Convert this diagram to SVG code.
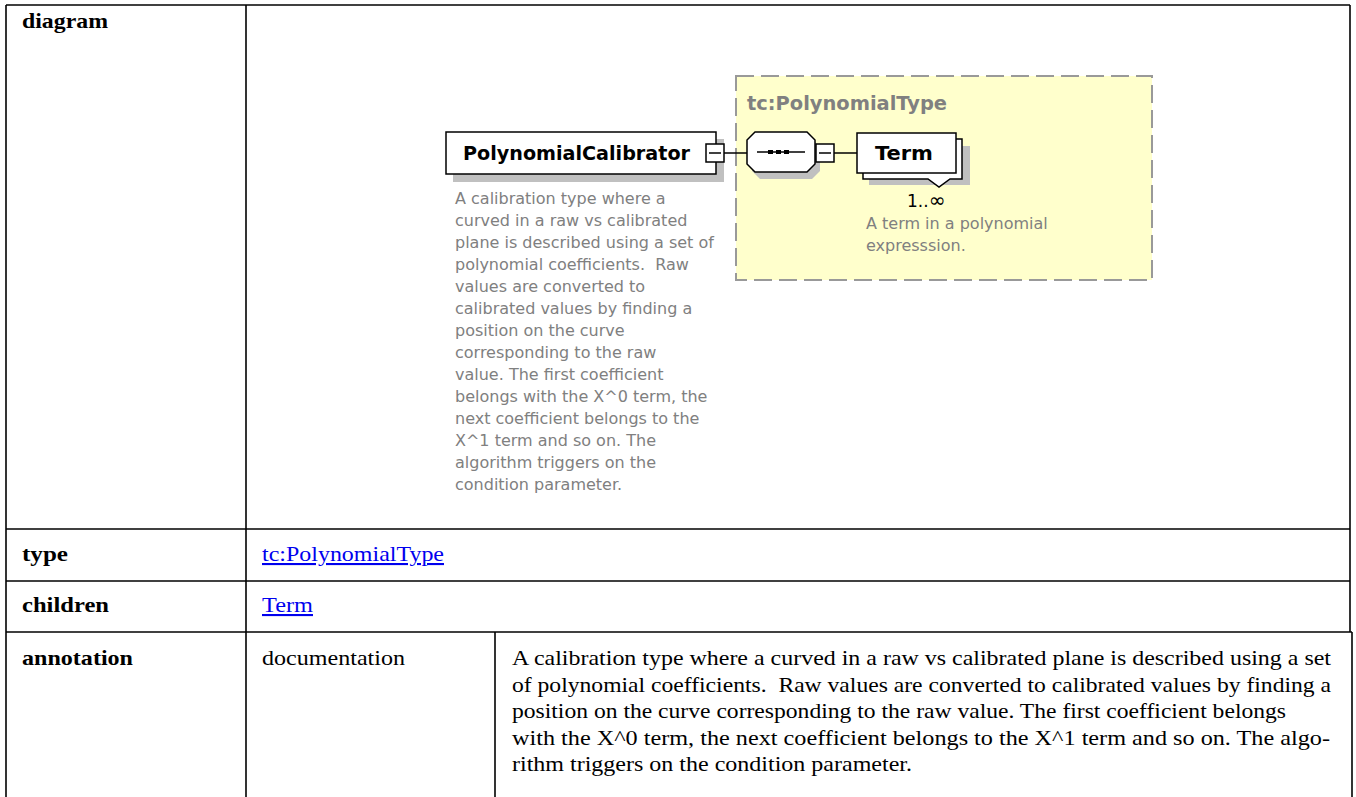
<svg xmlns="http://www.w3.org/2000/svg" width="1356" height="797" viewBox="0 0 1356 797">
  <style>
    .grid { stroke: #000; stroke-width: 1.6; fill: none; }
    .hdr { font-family: "Liberation Serif", "Times New Roman", serif; font-weight: bold; font-size: 21px; fill: #000; }
    .cell { font-family: "Liberation Serif", "Times New Roman", serif; font-size: 21px; fill: #000; }
    .link { font-family: "Liberation Serif", "Times New Roman", serif; font-size: 21px; fill: #0000EE; text-decoration: underline; }
    .name { font-family: "DejaVu Sans", Verdana, sans-serif; font-weight: bold; font-size: 19px; fill: #000; }
    .typename { font-family: "DejaVu Sans", Verdana, sans-serif; font-weight: bold; font-size: 19px; fill: #808080; }
    .doc { font-family: "DejaVu Sans", Verdana, sans-serif; font-size: 16px; fill: #808080; }
    .occ { font-family: "DejaVu Sans", Verdana, sans-serif; font-size: 17px; fill: #000; }
    .box { fill: #fff; stroke: #000; stroke-width: 1.5; }
    .shadow { fill: #c0c0c0; stroke: none; }
    .wire { stroke: #000; stroke-width: 1.5; fill: none; }
  </style>

  <!-- table rules -->
  <g id="table">
    <line class="grid" x1="6" y1="5" x2="1350" y2="5"/>
    <line class="grid" x1="6" y1="5" x2="6" y2="797"/>
    <line class="grid" x1="246" y1="5" x2="246" y2="797"/>
    <line class="grid" x1="1350" y1="5" x2="1350" y2="632"/>
    <line class="grid" x1="6" y1="529" x2="1350" y2="529"/>
    <line class="grid" x1="6" y1="581" x2="1350" y2="581"/>
    <line class="grid" x1="6" y1="632" x2="1352" y2="632"/>
    <line class="grid" x1="495" y1="632" x2="495" y2="797"/>
    <line class="grid" x1="1352" y1="632" x2="1352" y2="797"/>
  </g>

  <!-- row headings -->
  <g id="headings">
    <text class="hdr" x="22" y="28" textLength="86" lengthAdjust="spacingAndGlyphs">diagram</text>
    <text class="hdr" x="22" y="561" textLength="46" lengthAdjust="spacingAndGlyphs">type</text>
    <text class="hdr" x="22" y="612" textLength="87" lengthAdjust="spacingAndGlyphs">children</text>
    <text class="hdr" x="22" y="665" textLength="111" lengthAdjust="spacingAndGlyphs">annotation</text>
  </g>

  <!-- row values -->
  <g id="values">
    <text class="link" x="262" y="561" textLength="182" lengthAdjust="spacingAndGlyphs">tc:PolynomialType</text>
    <text class="link" x="262" y="612" textLength="51" lengthAdjust="spacingAndGlyphs">Term</text>
    <text class="cell" x="262" y="665" textLength="143" lengthAdjust="spacingAndGlyphs">documentation</text>
    <text class="cell" x="512" y="665" textLength="819" lengthAdjust="spacingAndGlyphs">A calibration type where a curved in a raw vs calibrated plane is described using a set</text>
    <text class="cell" x="512" y="691.5" textLength="819" lengthAdjust="spacingAndGlyphs" xml:space="preserve">of polynomial coefficients.  Raw values are converted to calibrated values by finding a</text>
    <text class="cell" x="512" y="718" textLength="774" lengthAdjust="spacingAndGlyphs">position on the curve corresponding to the raw value. The first coefficient belongs</text>
    <text class="cell" x="512" y="744.5" textLength="818" lengthAdjust="spacingAndGlyphs">with the X^0 term, the next coefficient belongs to the X^1 term and so on. The algo-</text>
    <text class="cell" x="512" y="771" textLength="400" lengthAdjust="spacingAndGlyphs">rithm triggers on the condition parameter.</text>
  </g>

  <!-- complex type container -->
  <g id="polynomial-type">
    <rect x="736" y="76" width="416" height="204" fill="#ffffcc" stroke="#999" stroke-width="2" stroke-dasharray="18 7"/>
    <text class="typename" x="747" y="110" textLength="200" lengthAdjust="spacingAndGlyphs">tc:PolynomialType</text>
  </g>

  <!-- connectors -->
  <g id="connectors">
    <line class="wire" x1="724" y1="153" x2="747" y2="153"/>
    <line class="wire" x1="834" y1="153" x2="857" y2="153"/>
  </g>

  <!-- root element -->
  <g id="polynomial-calibrator">
    <rect class="shadow" x="453" y="139" width="271" height="43"/>
    <rect class="box" x="446" y="132" width="270" height="42"/>
    <text class="name" x="463" y="160" textLength="227" lengthAdjust="spacingAndGlyphs">PolynomialCalibrator</text>
    <rect class="box" x="706" y="144" width="18" height="18" stroke-width="1.2"/>
    <line class="wire" x1="709" y1="153" x2="721" y2="153"/>
    <g class="doc">
      <text x="455" y="204">A calibration type where a</text>
      <text x="455" y="226">curved in a raw vs calibrated</text>
      <text x="455" y="248">plane is described using a set of</text>
      <text x="455" y="270" xml:space="preserve">polynomial coefficients.  Raw</text>
      <text x="455" y="292">values are converted to</text>
      <text x="455" y="314">calibrated values by finding a</text>
      <text x="455" y="336">position on the curve</text>
      <text x="455" y="358">corresponding to the raw</text>
      <text x="455" y="380">value. The first coefficient</text>
      <text x="455" y="402">belongs with the X^0 term, the</text>
      <text x="455" y="424">next coefficient belongs to the</text>
      <text x="455" y="446">X^1 term and so on. The</text>
      <text x="455" y="468">algorithm triggers on the</text>
      <text x="455" y="490">condition parameter.</text>
    </g>
  </g>

  <!-- sequence compositor -->
  <g id="sequence">
    <polygon class="shadow" points="760,139 812,139 820,147 820,171 812,179 760,179 752,171 752,147"/>
    <polygon class="box" points="755,132 807,132 815,140 815,164 807,172 755,172 747,164 747,140"/>
    <line class="wire" x1="757" y1="152" x2="805" y2="152"/>
    <rect x="768" y="150" width="5" height="4" fill="#000"/>
    <rect x="776" y="150" width="5" height="4" fill="#000"/>
    <rect x="784" y="150" width="5" height="4" fill="#000"/>
    <rect class="box" x="816" y="144" width="18" height="18" stroke-width="1.2"/>
    <line class="wire" x1="819" y1="153" x2="831" y2="153"/>
  </g>

  <!-- Term element, 1..unbounded -->
  <g id="term">
    <rect class="shadow" x="869" y="146" width="101" height="39"/>
    <path class="box" d="M863,139 H962 V179 H950 L939,187 L928,179 H863 Z" stroke-width="1.3"/>
    <rect class="box" x="857" y="133" width="99" height="40"/>
    <text class="name" x="875" y="160" font-size="20" textLength="58" lengthAdjust="spacingAndGlyphs">Term</text>
    <text class="occ" x="907" y="207">1..<tspan font-size="20">∞</tspan></text>
    <text class="doc" x="866" y="229">A term in a polynomial</text>
    <text class="doc" x="866" y="251">expresssion.</text>
  </g>
</svg>
